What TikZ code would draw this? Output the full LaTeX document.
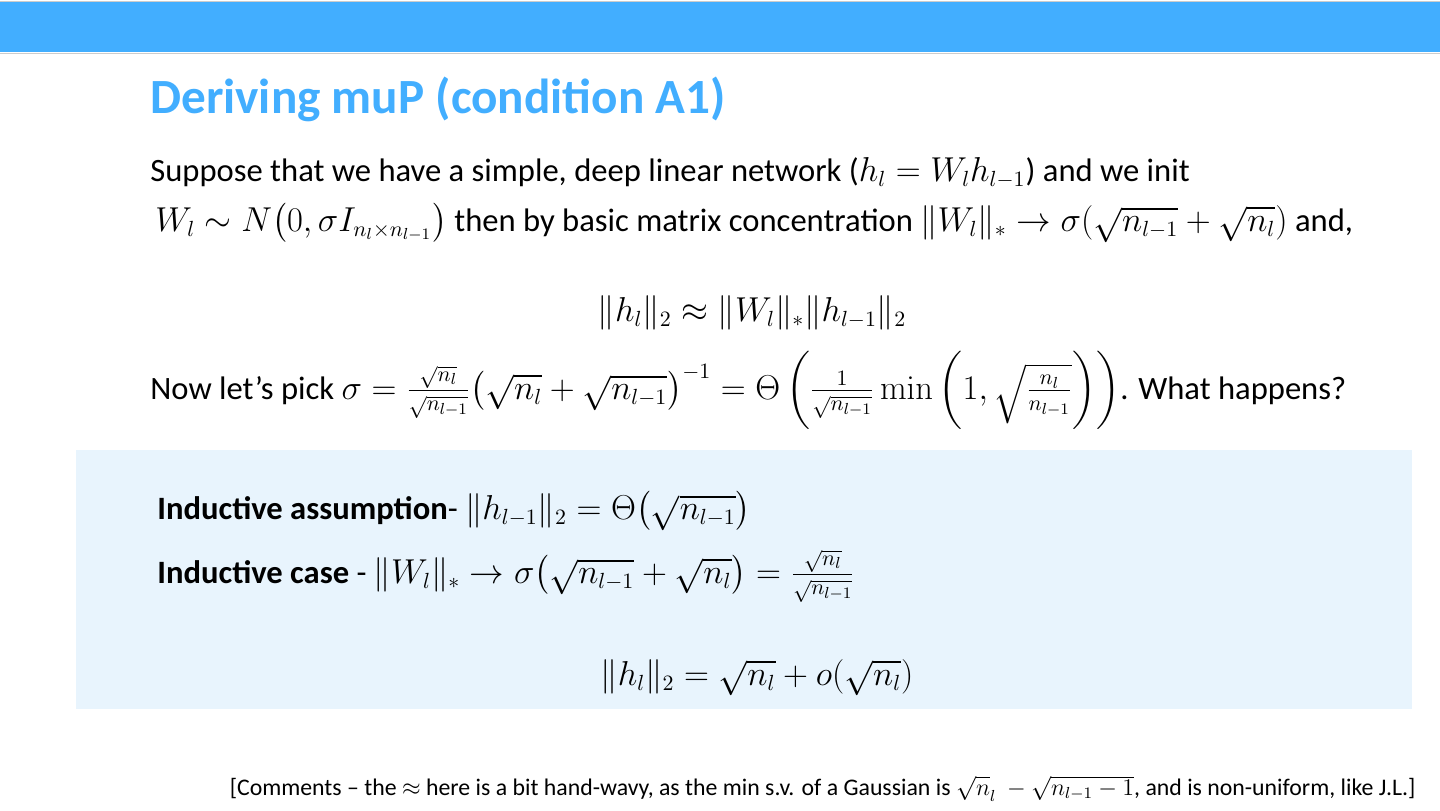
\documentclass[tikz,border=0pt]{standalone}
\usepackage{amsmath, amssymb}
\usepackage[no-math]{fontspec}
\setmainfont{Carlito}
\usetikzlibrary{positioning}
\definecolor{barblue}{HTML}{42AEFF}
\definecolor{boxblue}{HTML}{E8F4FD}
\tikzset{
  bodytext/.style={anchor=base west, inner sep=0pt, font=\fontsize{16.3}{19}\selectfont},
  centereq/.style={anchor=base, inner sep=0pt, font=\fontsize{16.3}{19}\selectfont},
  titletext/.style={anchor=base west, inner sep=0pt, text=barblue, font=\fontsize{24.6}{28}\selectfont\bfseries},
  notetext/.style={anchor=base east, inner sep=0pt, font=\fontsize{11.9}{14}\selectfont}
}
\newcommand{\nrm}[1]{\lVert #1\rVert}

\begin{document}
\begin{tikzpicture}[x=0.5pt, y=-0.5pt]
\useasboundingbox (0,0) rectangle (1440,810);
\fill[white] (0,0) rectangle (1440,810);
% top bar
\fill[barblue] (0,2) rectangle (1440,52);
\draw[gray!40] (0,1) -- (1440,1);
\draw[gray!40] (0,53) -- (1440,53);
% title
\node[titletext] (title) at (150,113) {Deriving muP (condition A1)};
% text
\node[bodytext] (intro) at (150,181) {Suppose that we have a simple, deep linear network ($h_l = W_l h_{l-1}$) and we init};
\node[bodytext] (init) at (155,231) {$W_l \sim N\big(0, \sigma I_{n_l\times n_{l-1}}\big)$ then by basic matrix concentration $\nrm{W_l}_* \to \sigma(\sqrt{n_{l-1}}+\sqrt{n_l})$ and,};
\node[centereq] (approx) at (752,321) {$\nrm{h_l}_2 \approx \nrm{W_l}_*\nrm{h_{l-1}}_2$};
\node[bodytext] (pick) at (150,399) {Now let's pick $\sigma = \frac{\sqrt{n_l}}{\sqrt{n_{l-1}}}\big(\sqrt{n_l}+\sqrt{n_{l-1}}\big)^{-1} = \Theta\left(\frac{1}{\sqrt{n_{l-1}}}\min\left(1, \sqrt{\frac{n_l}{n_{l-1}}}\right)\right)$. What happens?};
% shaded box
\fill[boxblue] (76,450) rectangle (1412,709);
\node[bodytext] (assume) at (157,519) {\textbf{Inductive assumption}- $\nrm{h_{l-1}}_2 = \Theta\big(\sqrt{n_{l-1}}\big)$};
\node[bodytext] (case) at (157,583) {\textbf{Inductive case} - $\nrm{W_l}_* \to \sigma\big(\sqrt{n_{l-1}}+\sqrt{n_l}\big) = \frac{\sqrt{n_l}}{\sqrt{n_{l-1}}}$};
\node[centereq] (result) at (757,685) {$\nrm{h_l}_2 = \sqrt{n_l} + o(\sqrt{n_l})$};
% footnote
\node[notetext] (note) at (1416,795) {[Comments -- the $\approx$ here is a bit hand-wavy, as the min s.v. of a Gaussian is $\sqrt{n}_l\ -\sqrt{n_{l-1}-1}$, and is non-uniform, like J.L.]};
\end{tikzpicture}
\end{document}
